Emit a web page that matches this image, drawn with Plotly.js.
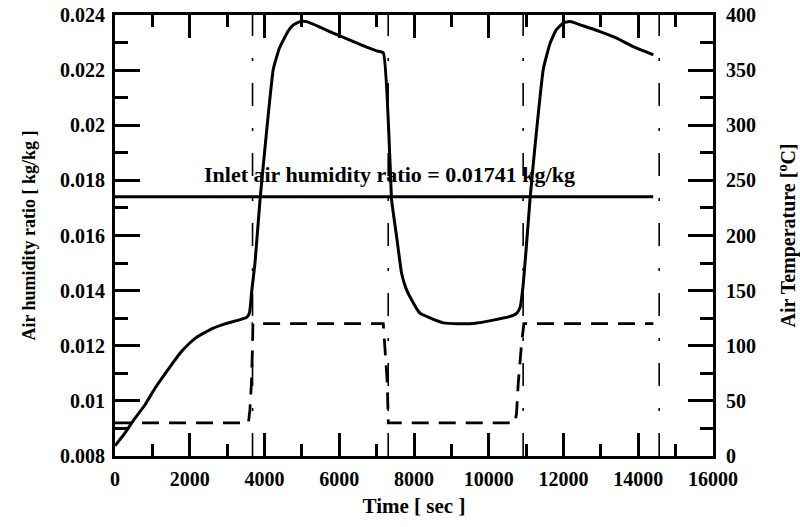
<!DOCTYPE html>
<html>
<head>
<meta charset="utf-8">
<script src="https://cdn.plot.ly/plotly-3.0.1.min.js"></script>
<style>html,body{margin:0;padding:0;background:#fff;}#chart{width:800px;height:527px;}</style>
</head>
<body>
<div id="chart"></div>
<script>
// Outlet air humidity ratio (left axis)
const timeHumidity = [0, 250, 535, 800, 1070, 1400, 1739, 2000, 2185, 2600, 2987, 3300, 3522, 3600, 3656, 3745, 3880, 4000, 4236, 4400, 4504, 4650, 4771, 4949, 5127, 5500, 5840, 6286, 6700, 7000, 7178,
  7356, 7401, 7535, 7668, 7780, 7891, 8158, 8426, 8783, 9200, 9586, 10120, 10655, 10760, 10840, 10920, 11000, 11103, 11220, 11460, 11639, 11800, 11996, 12174, 12500, 12977, 13423, 13869, 14404];
const humidity = [0.00837, 0.0088, 0.00937, 0.00985, 0.01046, 0.0111, 0.01173, 0.0121, 0.01231, 0.01262, 0.01281, 0.01293, 0.01303, 0.0132, 0.01395, 0.015, 0.01729, 0.0190, 0.02204, 0.0228, 0.02309, 0.02345, 0.02364, 0.02376, 0.02376, 0.02355, 0.02334, 0.02309, 0.02285, 0.0227, 0.02263,
  0.01874, 0.01729, 0.01596, 0.01463, 0.0141, 0.01378, 0.01318, 0.01301, 0.01283, 0.0128, 0.01281, 0.01293, 0.0131, 0.0132, 0.0134, 0.0142, 0.0155, 0.01729, 0.0190, 0.02204, 0.02297, 0.02345, 0.02372, 0.02376, 0.02362, 0.0234, 0.02316, 0.02285, 0.02255];

// Air temperature (right axis)
const timeTemperature = [0, 3570, 3610, 3650, 3680, 3690, 7178, 7223, 7286, 7312, 10700, 10744, 10789, 10878, 10940, 14404];
const temperature = [30, 30, 42, 66, 100, 120, 120, 96, 66, 30, 30, 39, 66, 102, 120, 120];

// Inlet air humidity ratio
const inletTime = [0, 14400];
const inletHumidity = [0.01741, 0.01741];

// Switching times (dash-dot vertical markers)
const switchTimes = [3680, 7310, 10920, 14560];
const switchRange = [0.008, 0.024];

// Tick labels
const xTickVals = [0, 2000, 4000, 6000, 8000, 10000, 12000, 14000, 16000];
const xTickText = ['0', '2000', '4000', '6000', '8000', '10000', '12000', '14000', '16000'];
const yTickVals = [0.008, 0.01, 0.012, 0.014, 0.016, 0.018, 0.02, 0.022, 0.024];
const yTickText = ['0.008', '0.01', '0.012', '0.014', '0.016', '0.018', '0.02', '0.022', '0.024'];
const y2TickVals = [0, 50, 100, 150, 200, 250, 300, 350, 400];
const y2TickText = ['0', '50', '100', '150', '200', '250', '300', '350', '400'];

const FONT = 'Liberation Serif';

const traces = [];
switchTimes.forEach(t => {
  traces.push({
    x: [t, t], y: switchRange, xaxis: 'x', yaxis: 'y', mode: 'lines',
    line: {color: '#000', width: 1.6, dash: '23px,22px,3px,22px'},
    hoverinfo: 'skip', showlegend: false
  });
});
traces.push({
  x: inletTime, y: inletHumidity, mode: 'lines', yaxis: 'y',
  line: {color: '#000', width: 3}, showlegend: false
});
traces.push({
  x: timeTemperature, y: temperature, mode: 'lines', yaxis: 'y2',
  line: {color: '#000', width: 2.8, dash: '17px,10px'}, showlegend: false
});
traces.push({
  x: timeHumidity, y: humidity, mode: 'lines', yaxis: 'y',
  line: {color: '#000', width: 3, shape: 'spline', smoothing: 0.4}, showlegend: false
});

const tickFont = {family: FONT, size: 20, color: '#000', weight: 'bold'};

const layout = {
  width: 800, height: 527,
  margin: {l: 115, r: 87, t: 15, b: 71, pad: 0},
  paper_bgcolor: '#fff', plot_bgcolor: '#fff',
  showlegend: false,
  font: {family: FONT, size: 20, color: '#000', weight: 'bold'},
  xaxis: {
    range: [0, 16000], tickmode: 'array', tickvals: xTickVals, ticktext: xTickText,
    ticks: 'inside', ticklen: 23, tickwidth: 3, tickcolor: '#000',
    minor: {dtick: 1000, tick0: 0, ticks: 'inside', ticklen: 12, tickwidth: 3, tickcolor: '#000'},
    showline: true, linewidth: 3, linecolor: '#000', mirror: 'ticks',
    showgrid: false, zeroline: false, tickfont: tickFont, ticklabelstandoff: 3,
    title: {text: 'Time [ sec ]', font: {family: FONT, size: 21, color: '#000', weight: 'bold'}, standoff: 10}
  },
  yaxis: {
    range: [0.008, 0.024], tickmode: 'array', tickvals: yTickVals, ticktext: yTickText,
    ticks: 'inside', ticklen: 25, tickwidth: 3, tickcolor: '#000',
    minor: {dtick: 0.001, tick0: 0.008, ticks: 'inside', ticklen: 13, tickwidth: 3, tickcolor: '#000'},
    showline: true, linewidth: 3, linecolor: '#000',
    showgrid: false, zeroline: false, tickfont: tickFont, ticklabelstandoff: 3,
    title: {text: 'Air humidity ratio [ kg/kg ]', font: {family: FONT, size: 18, color: '#000', weight: 'bold'}, standoff: 20}
  },
  yaxis2: {
    range: [0, 400], tickmode: 'array', tickvals: y2TickVals, ticktext: y2TickText, overlaying: 'y', side: 'right',
    ticks: 'inside', ticklen: 25, tickwidth: 3, tickcolor: '#000',
    minor: {dtick: 25, tick0: 0, ticks: 'inside', ticklen: 13, tickwidth: 3, tickcolor: '#000'},
    showline: true, linewidth: 3, linecolor: '#000',
    showgrid: false, zeroline: false, tickfont: tickFont, ticklabelstandoff: 6,
    title: {text: 'Air Temperature [<sup>o</sup>C]', font: {family: FONT, size: 20, color: '#000', weight: 'bold'}, standoff: 30}
  },
  annotations: [{
    x: 7357, y: 0.01823, xref: 'x', yref: 'y', showarrow: false,
    text: 'Inlet air humidity ratio = 0.01741 kg/kg',
    font: {family: FONT, size: 22, color: '#000', weight: 'bold'},
    xanchor: 'center', yanchor: 'middle'
  }]
};

Plotly.newPlot('chart', traces, layout, {displayModeBar: false, staticPlot: true});
</script>
</body>
</html>
